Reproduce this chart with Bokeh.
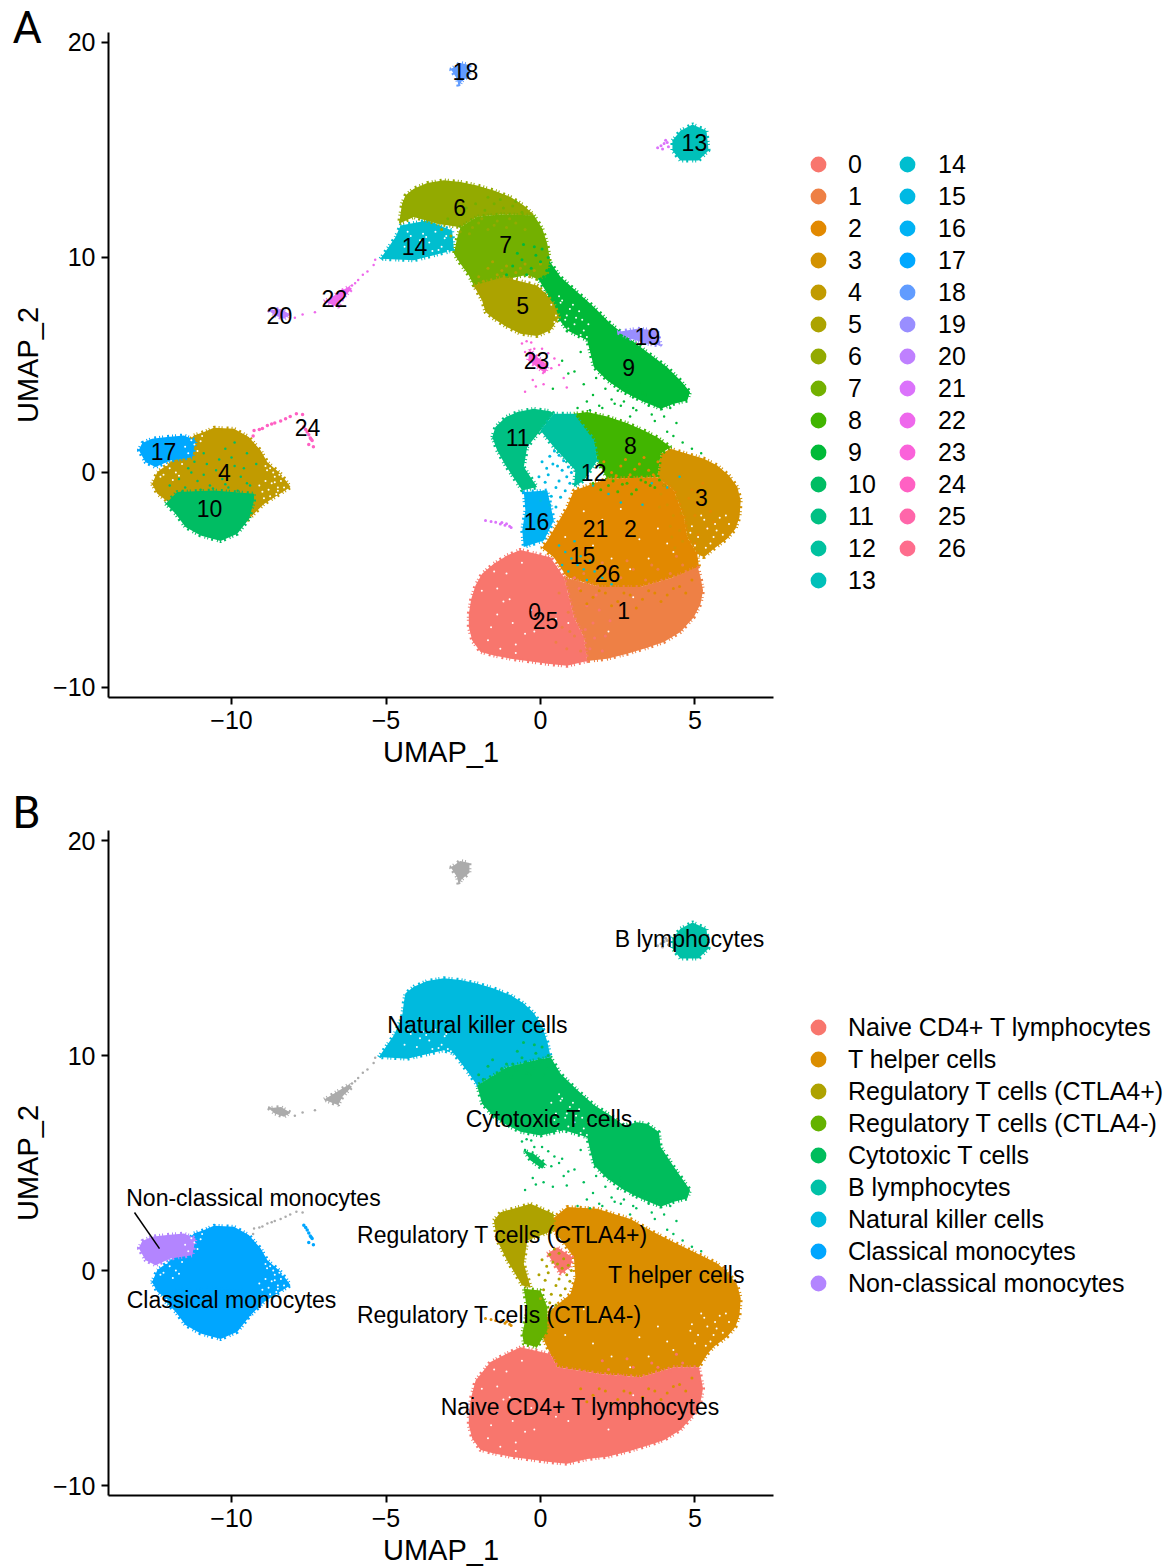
import math
from bokeh.embed import file_html
from bokeh.resources import INLINE
from bokeh.plotting import figure
from bokeh.layouts import column
from bokeh.models import Legend, LegendItem, FixedTicker, ColumnDataSource
from bokeh.core.properties import value

FONT = "Liberation Sans"
XTICKS = [-10, -5, 0, 5]
YTICKS = [-10, 0, 10, 20]
XTICK_LABELS = {-10: "\u221210", -5: "\u22125", 0: "0", 5: "5"}
YTICK_LABELS = {-10: "\u221210", 0: "0", 10: "10", 20: "20"}

# ---------- cluster outlines ----------
C0_X = [-0.65,-1.08,-1.51,-1.89,-2.10,-2.24,-2.32,-2.32,-2.21,-1.94,-1.51,-0.97,-0.43,0.22,0.86,1.51,1.40,1.08,0.92,0.76,0.32]
C0_Y = [-3.60,-3.86,-4.25,-4.71,-5.25,-5.87,-6.57,-7.19,-7.81,-8.35,-8.51,-8.66,-8.77,-8.90,-8.99,-8.77,-7.66,-6.73,-5.80,-4.87,-3.94]
C1_X = [0.76,1.94,3.24,4.32,5.09,5.18,5.26,5.18,4.96,4.53,3.99,3.45,2.81,2.16,1.51,1.40,1.08,0.92]
C1_Y = [-4.87,-5.33,-5.33,-4.87,-4.40,-4.87,-5.49,-6.11,-6.73,-7.42,-7.89,-8.15,-8.43,-8.66,-8.77,-7.66,-6.73,-5.80]
C2_X = [1.08,0.86,0.54,0.22,0.05,0.43,0.86,1.94,3.24,4.32,5.13,5.07,4.75,4.64,4.32,3.78,2.16]
C2_Y = [-0.84,-1.61,-2.39,-3.16,-3.5,-3.94,-4.87,-5.33,-5.33,-4.87,-4.40,-3.78,-3.01,-2.08,-0.84,-0.22,-0.29]
C3_X = [4.21,4.75,5.29,5.72,6.10,6.37,6.48,6.44,6.31,6.04,5.61,5.29,5.07,4.75,4.64,4.32,3.78,3.89]
C3_Y = [1.10,0.87,0.64,0.33,-0.14,-0.68,-1.30,-2.08,-2.62,-3.08,-3.55,-3.94,-3.78,-3.01,-2.08,-0.84,-0.22,0.87]
C4_X = [-12.57,-12.40,-11.97,-11.54,-11.22,-10.89,-10.57,-9.92,-9.44,-9.06,-8.84,-8.41,-8.09,-8.52,-8.95,-9.49,-9.71,-10.9,-11.97,-12.40]
C4_Y = [-0.53,0.02,0.48,1.18,1.72,1.88,2.08,2.03,1.65,1.03,0.48,-0.06,-0.68,-1.07,-1.46,-2.23,-1.14,-0.91,-1.45,-0.99]
C5_X = [-2.16,-1.89,-1.78,-1.51,-1.08,-0.65,-0.11,0.33,0.60,0.43,0.16,-0.11,-1.19]
C5_Y = [8.70,8.0,7.46,7.15,6.76,6.45,6.35,6.61,7.23,7.85,8.32,8.70,9.09]
C6_X = [-4.48,-4.37,-4.10,-3.67,-3.13,-2.59,-2.05,-1.51,-0.97,-0.54,-0.21,-1.30,-2.05,-2.59,-3.34,-4.10,-4.58]
C6_Y = [12.5,12.89,13.20,13.46,13.59,13.51,13.35,13.12,12.81,12.42,11.96,12.0,11.9,11.41,11.57,11.88,11.57]
C7_X = [-0.21,0.06,0.22,0.30,0.2,-0.11,-0.43,-1.29,-2.16,-2.32,-2.59,-2.80,-2.70,-2.59,-2.05,-1.29]
C7_Y = [11.96,11.34,10.64,9.94,9.2,9.0,9.2,8.93,8.70,9.17,9.71,10.17,10.9,11.41,11.9,12.0]
C8_X = [1.08,1.51,2.16,2.81,3.35,3.78,4.21,3.89,3.78,2.16,1.84,1.73,1.08]
C8_Y = [2.73,2.81,2.60,2.29,1.95,1.64,1.18,0.87,-0.22,-0.29,0.56,1.33,2.11]
C9_X = [0.27,0.65,1.19,1.73,2.27,2.81,3.45,4.10,4.53,4.84,4.75,4.32,3.89,3.24,2.70,2.16,1.73,1.62,1.51,0.87,0.54,0.22,-0.11]
C9_Y = [9.87,9.09,8.39,7.70,6.92,6.30,5.60,4.90,4.28,3.74,3.35,3.2,2.97,3.35,3.74,4.28,4.90,5.53,6.15,6.6,7.23,8.32,9.09]
C10_X = [-12.13,-11.76,-10.57,-9.27,-9.27,-9.43,-9.81,-10.35,-11.0,-11.49,-11.81]
C10_Y = [-1.45,-0.91,-0.84,-0.99,-1.30,-2.15,-2.85,-3.19,-2.93,-2.54,-1.92]
C11_X = [-1.56,-1.46,-1.13,-0.75,-0.22,0.32,0.43,0.0,-0.43,-0.54,-0.11,-0.59,-0.81,-1.13,-1.40]
C11_Y = [1.64,2.11,2.57,2.81,2.96,2.85,2.73,1.95,1.18,0.25,-0.68,-0.84,-0.37,0.33,1.02]
C12_X = [0.43,1.08,1.73,1.84,1.40,1.08,1.13,0.43,0.0]
C12_Y = [2.73,2.73,1.49,0.56,-0.37,-0.68,0.09,1.18,1.95]
C13_X = [4.27,4.53,4.92,5.37,5.44,5.11,4.53,4.27]
C13_Y = [15.44,15.9,16.19,15.9,14.98,14.51,14.51,14.98]
C14_X = [-5.18,-4.69,-4.53,-3.67,-2.86,-2.80,-3.24,-4.10]
C14_Y = [9.94,10.95,11.49,11.72,11.26,10.33,10.18,9.87]
C16_X = [-0.54,0.22,0.43,0.11,-0.54,-0.59,-0.49]
C16_Y = [-0.91,-0.84,-2.23,-3.16,-3.47,-2.70,-1.77]
C17_X = [-13.0,-12.89,-12.57,-12.08,-11.54,-11.16,-11.27,-11.97,-12.46,-12.78]
C17_Y = [1.03,1.37,1.57,1.65,1.72,1.49,0.71,0.56,0.25,0.48]
C18_X = [-2.9,-2.6,-2.3,-2.3,-2.55,-2.65,-2.7]
C18_Y = [18.75,19.05,18.95,18.5,18.2,17.95,18.3]
C19_X = [2.48,3.13,3.78,3.89,3.45,2.92]
C19_Y = [6.53,6.69,6.61,5.91,5.99,6.22]
C20_X = [-8.8,-8.4,-8.1,-8.3,-8.6]
C20_Y = [7.55,7.6,7.35,7.15,7.3]
C22_X = [-7.0,-6.6,-6.2,-6.1,-6.4,-6.55,-6.75]
C22_Y = [7.95,8.3,8.65,8.55,8.1,7.7,7.8]
C23_X = [-0.35,-0.05,0.25,0.15,-0.1,-0.4]
C23_Y = [5.7,5.3,5.0,4.6,4.9,5.2]

# ---------- small separate groups of points ----------
TAIL_X = [-9.3,-9.27,-9.1,-9.0,-8.84,-8.7,-8.6,-8.41,-8.25,-8.1,-7.9,-7.7,-7.66,-7.6,-7.55,-7.5,-7.45,-7.39,-7.5,-7.35,-7.42]
TAIL_Y = [1.7,1.95,2.0,2.05,2.19,2.25,2.3,2.4,2.5,2.6,2.73,2.7,2.11,2.0,1.88,1.75,1.6,1.49,1.3,1.2,1.55]
BRIDGE_X = [-5.4,-5.6,-5.35,-5.75,-5.9,-6.0,-6.1,-6.85,-7.3,-7.7,-7.95]
BRIDGE_Y = [9.65,9.35,9.9,9.2,8.95,8.8,8.7,7.95,7.45,7.35,7.2]
NEAR16_X = [-1.78,-1.6,-1.45,-1.3,-1.15,-1.0,-0.95,-1.1,-1.25]
NEAR16_Y = [-2.23,-2.28,-2.32,-2.4,-2.45,-2.5,-2.56,-2.38,-2.33]
NEAR13_X = [3.79,3.9,4.0,4.1,4.14,3.95,4.05]
NEAR13_Y = [15.1,15.2,15.3,15.35,15.15,15.05,15.45]
NEAR23_X = [-0.6,-0.5,-0.45,-0.3,-0.2,0.05,0.25,0.35,0.45,0.6,0.75,-0.25,-0.15,0.1,-0.5,0.85]
NEAR23_Y = [6.0,5.6,6.1,6.05,5.75,5.75,5.55,4.85,5.3,5.0,4.4,4.3,4.0,4.1,3.75,3.95]
GREEN_X = [1.2,1.5,1.7,1.9,2.1,2.3,2.5,2.6,2.8,3.0,3.1,3.3,3.5,3.6,3.8,4.0,4.2,4.4,1.4,1.8,2.2,2.4,2.7,2.9,3.2,3.4,3.7,3.9,4.1,1.1,1.6,2.0,4.3,4.6,4.9,5.2,3.0,2.6,0.7,0.9,1.3,0.4]
GREEN_Y = [3.0,3.3,3.6,3.1,3.9,3.4,3.8,3.1,4.0,3.5,2.9,3.7,3.1,2.7,3.3,2.6,3.0,2.3,4.1,4.4,4.6,3.2,3.3,2.6,4.2,3.6,2.4,3.0,1.9,4.7,2.9,3.0,1.7,1.4,1.1,0.9,3.0,4.3,5.2,4.6,5.6,3.9]
INNER_X = [0.45,0.6,0.75,0.9,1.0,0.55,0.7,0.85,0.3,0.4,0.6,0.95,0.2,0.05,0.25,0.5,0.8,-0.05,0.15,0.35,0.1,0.3,0.0,0.5,0.65]
INNER_Y = [1.0,0.8,0.55,0.25,0.0,0.3,0.1,-0.2,0.75,0.4,-0.4,-0.5,0.2,0.5,-0.1,-0.7,-0.85,-0.2,-0.45,-1.1,-0.9,-1.5,-1.3,-1.6,-1.15]
MIX15_X = [0.6,0.8,1.0,1.2,1.4,1.6,0.9,1.1,1.3,1.5,1.75,2.0,2.3,0.7,2.6,3.1,3.6,4.1,2.2,1.7,3.3,4.5]
MIX15_Y = [-3.4,-3.7,-4.0,-4.3,-4.5,-4.1,-4.6,-3.2,-3.9,-5.0,-4.6,-4.9,-5.2,-4.3,-1.4,-0.8,-0.5,-0.7,-1.0,-0.6,-1.5,-0.2]
MIX4_X = [-12.0,-11.7,-11.5,-11.3,-11.1,-10.9,-10.7,-10.5,-10.3,-10.1,-9.9,-9.7,-9.5,-11.6,-11.2,-10.8,-10.4,-10.0,-9.6,-11.0,-10.6,-10.2,-9.8,-9.4,-9.9,-10.2,-9.5,-9.2,-11.4,-10.9]
MIX4_Y = [-0.6,-0.3,-0.7,0.0,-0.4,-0.1,-0.6,0.1,-0.3,-0.7,0.3,-0.2,-0.5,-0.9,0.5,0.4,0.6,0.7,0.2,-0.8,-0.75,-0.55,-0.85,-0.6,1.4,1.1,0.9,0.4,0.2,0.9]
MIX6_X = [-3.2,-2.9,-2.6,-2.3,-2.0,-1.7,-1.4,-1.1,-0.8,-0.5,-2.2,-1.9,-1.5,-1.0]
MIX6_Y = [11.3,11.0,11.2,11.1,11.6,11.3,11.7,11.4,11.6,11.3,11.4,11.8,11.5,11.8]
MIX7_X = [-2.4,-2.1,-1.8,-1.5,-1.2,-0.9,-0.6,-3.0,-2.7,-1.7,-1.3,-0.8]
MIX7_Y = [12.3,12.5,12.2,12.5,12.3,12.4,12.1,11.8,12.0,12.8,12.7,12.6]
MIX5_X = [-2.0,-1.7,-1.4,-1.1,-0.8,-0.5,-0.2,-1.85,-1.55,-1.25,-0.95,-0.65,-0.35,0.0]
MIX5_Y = [9.1,9.5,9.2,9.6,9.3,9.7,9.4,8.9,9.8,9.4,9.0,9.5,9.1,9.7]
MIX9_X = [-0.9,-0.6,-0.3,0.0,0.2,-0.75,-0.45,-0.15,0.1,-1.1,-0.2,0.05,-0.55,0.25]
MIX9_Y = [9.6,9.9,9.5,9.8,9.4,10.2,9.2,10.1,9.1,9.2,10.5,10.4,10.6,10.0]
MIX8_X = [2.2,2.5,2.8,3.1,3.4,3.7,2.35,2.65,2.95,3.25,3.55,3.85,4.0,1.7,1.95]
MIX8_Y = [-0.6,-0.9,-0.5,-0.8,-0.45,-0.7,-0.4,-0.55,-1.0,-0.35,-0.6,-0.35,-0.6,-0.5,-0.8]
MIX2_X = [2.3,2.6,2.9,3.2,3.5,3.8,2.05,2.45,2.75,3.05,3.35,3.65]
MIX2_Y = [0.0,0.3,-0.1,0.4,0.1,0.5,0.5,-0.15,0.6,0.15,0.7,-0.1]
MIX3_X = [3.9,4.1,4.3,4.5,4.0,4.2,4.4,4.6,3.85,4.25,4.55,4.35]
MIX3_Y = [-1.0,-1.5,-2.0,-2.7,-0.6,-2.5,-1.2,-3.2,-1.6,-3.0,-1.9,-3.5]
MIX2B_X = [4.8,5.0,5.2,5.4,4.9,5.1,5.3,5.5,5.0,5.25,4.7,5.6]
MIX2B_Y = [-1.2,-2.0,-1.5,-2.6,-0.8,-2.9,-1.0,-1.8,-3.3,-0.5,-2.5,-2.3]
MIX1_X = [0.5,0.7,0.9,1.1,1.25,0.6,0.85,1.05,1.3,0.4,0.95,1.2]
MIX1_Y = [-7.9,-7.2,-6.5,-7.6,-6.1,-5.6,-8.2,-5.3,-8.3,-6.8,-7.4,-5.0]
MIX0_X = [1.5,1.7,1.9,2.1,1.6,1.8,2.0,2.25,1.45,1.75,1.25,1.1]
MIX0_Y = [-6.2,-7.0,-6.4,-7.6,-8.2,-5.7,-8.3,-6.9,-7.3,-7.7,-5.4,-4.9]
MIX2C_X = [1.3,1.7,2.1,2.5,2.9,3.3,3.7,4.1,4.5,4.9,1.5,1.9,2.3,2.7,3.1,3.5,3.9,4.3,4.7]
MIX2C_Y = [-5.5,-5.8,-5.6,-6.0,-5.7,-5.9,-5.6,-5.7,-5.3,-5.0,-6.1,-5.5,-6.2,-5.6,-6.3,-5.5,-6.0,-5.4,-5.6]
MIX1B_X = [1.4,1.8,2.2,2.6,3.0,3.4,3.8,4.2,4.6,2.0,2.8,3.6,4.4]
MIX1B_Y = [-4.7,-5.0,-4.6,-4.9,-4.5,-5.0,-4.5,-4.7,-4.3,-4.2,-4.1,-4.3,-3.9]
SPECK_X = [-9.0,-8.9,-8.75,-8.6,-8.5,-8.4,-8.3,-8.85,-8.7,-8.55,-8.45,-8.65,-8.8,-8.95,-8.35,-9.1,-8.6,-8.75,-8.5,-8.9,
           0.35,0.5,0.65,0.8,0.95,1.1,1.25,1.4,1.55,0.45,0.7,0.9,1.15,1.35,0.55,0.85,1.05,1.3,1.5,0.6,
           -4.4,-4.2,-4.0,-3.8,-3.6,-3.4,-3.2,-3.0,-4.3,-3.9,-3.5,-3.1,-3.7,-3.3,-2.9,-3.05,
           4.9,5.1,5.3,5.5,5.7,5.9,6.1,5.0,5.2,5.4,5.6,5.8,6.0,5.35,5.65,4.85,
           -11.5,-11.3,-11.1,-10.95,-11.4,-11.2,-11.0,-12.4,-12.2,-12.0,-11.8,-11.6,-12.3,-12.1,-11.9,-11.7,
           -1.9,-1.6,-1.3,-1.0,-1.7,-1.4,-1.1,-0.8,-0.5,-1.5,-1.2,-0.9,-0.6,-0.3,
           1.4,2.0,2.6,3.2,3.8,4.3,0.8,1.7,2.3,2.9,3.5,4.1,3.0,2.2,0.9,-0.8,-1.4,-0.2,0.5]
SPECK_Y = [-0.9,-0.4,-1.1,-0.2,-0.7,-0.4,-0.7,0.1,-0.5,-1.0,-0.1,0.0,-0.8,-1.2,-0.2,-0.6,-0.45,0.2,-0.85,0.3,
           7.8,7.3,7.9,7.1,7.6,6.9,7.5,6.6,6.9,7.0,8.0,6.7,7.2,7.1,6.5,7.3,7.8,6.4,6.3,8.2,
           10.5,11.0,10.4,11.1,10.7,11.2,10.5,10.3,11.2,10.8,10.3,10.9,10.95,10.35,10.2,11.0,
           -2.5,-3.0,-2.2,-3.3,-2.7,-2.9,-2.4,-3.4,-2.0,-2.6,-3.0,-2.1,-2.0,-3.5,-2.4,-2.8,
           1.2,1.5,1.0,1.7,0.9,1.3,1.45,0.1,-0.1,0.2,0.0,0.4,-0.2,0.35,-0.35,-0.15,
           -5.5,-7.2,-8.2,-5.9,-7.8,-6.6,-4.7,-8.4,-7.5,-4.6,-6.0,-7.0,-4.2,-6.4,
           -1.8,-2.2,-1.7,-3.1,-2.6,-3.7,-3.0,-3.4,-4.0,-4.5,-4.0,-3.3,-5.8,-7.4,-7.0,-8.0,-5.4,-7.4,-6.8]

# ---------- outlines ----------
NAIVE_X = [-0.65,-1.08,-1.62,-2.10,-2.24,-2.32,-2.32,-2.21,-1.94,-1.51,-0.97,-0.43,0.22,0.86,1.51,2.16,2.81,3.45,3.99,4.53,4.96,5.18,5.26,5.13,4.32,3.24,1.94,0.54,0.32]
NAIVE_Y = [-3.57,-3.86,-4.26,-5.12,-5.87,-6.57,-7.19,-7.81,-8.35,-8.51,-8.66,-8.77,-8.90,-8.99,-8.77,-8.66,-8.43,-8.15,-7.89,-7.42,-6.73,-6.11,-5.49,-4.50,-4.5,-4.96,-4.81,-4.5,-3.88]
NAIVE2_X = [0.22,0.54,1.03,0.97,0.65,0.43]
NAIVE2_Y = [0.78,1.08,0.62,0.15,-0.16,0.31]
HELPER_X = [0.32,0.86,1.84,2.91,3.67,4.53,5.29,5.72,6.10,6.37,6.48,6.44,6.31,6.04,5.61,5.40,5.13,4.32,3.24,1.94,0.54,0.32,0.0,0.32,0.97,1.13,1.08,0.76,0.43]
HELPER_Y = [2.33,2.95,2.87,2.40,1.78,1.16,0.64,0.33,-0.14,-0.68,-1.30,-2.08,-2.62,-3.08,-3.55,-3.88,-4.50,-4.5,-4.96,-4.81,-4.5,-3.88,-2.9,-1.86,-1.09,-0.31,0.62,1.24,1.86]
REGP_X = [-1.51,-1.29,-0.32,0.43,0.43,-0.43,-0.54,-0.32,-0.59,-1.08,-1.40]
REGP_Y = [2.33,2.71,3.1,2.63,1.86,1.4,0.31,-0.78,-0.70,0.47,1.4]
REGM_X = [-0.54,0.0,0.22,0.22,-0.11,-0.54,-0.59,-0.43]
REGM_Y = [-0.85,-0.93,-1.7,-2.79,-3.57,-3.41,-2.95,-1.86]
NK_X = [-5.23,-4.75,-4.48,-4.42,-4.37,-4.10,-3.67,-3.13,-2.59,-2.05,-1.51,-0.97,-0.54,-0.21,0.06,0.22,0.33,-0.22,-1.08,-1.62,-2.05,-2.32,-2.8,-3.13,-4.31]
NK_Y = [9.93,10.93,11.78,12.5,12.89,13.20,13.46,13.59,13.51,13.35,13.12,12.81,12.42,11.96,11.34,10.64,9.92,9.77,9.46,8.99,8.61,9.17,10.08,10.24,9.85]
CYTO_X = [0.33,0.65,1.19,1.73,2.27,2.7,3.13,3.45,3.83,3.89,4.32,4.84,4.75,4.32,3.89,3.24,2.70,2.16,1.73,1.62,1.51,0.76,0.0,-0.65,-1.08,-1.51,-1.89,-2.05,-1.62,-1.08,-0.22]
CYTO_Y = [9.92,9.15,8.39,7.70,7.21,6.75,6.9,6.83,6.44,5.74,4.81,3.74,3.35,3.2,2.97,3.35,3.74,4.28,4.90,5.53,6.2,6.52,6.28,6.45,6.76,7.15,7.76,8.61,8.99,9.46,9.77]
CYTO2_X = [-0.54,-0.22,0.16,0.06,-0.32]
CYTO2_Y = [5.58,5.43,4.97,4.73,5.12]
POINTER_X = [-13.14,-12.33]
POINTER_Y = [2.70,1.02]

# ---------- labels ----------
CLUSTER_NAMES = [str(i) for i in range(27)]
CLUSTER_X = [-0.19,2.69,2.91,5.21,-10.23,-0.58,-2.62,-1.13,2.91,2.85,-10.71,-0.74,1.72,4.98,-4.08,1.36,-0.13,-12.2,-2.43,3.46,-8.45,1.78,-6.67,-0.13,-7.54,0.16,2.17]
CLUSTER_Y = [-6.47,-6.42,-2.60,-1.16,0.0,7.77,12.33,10.6,1.26,4.88,-1.67,1.63,0.0,15.35,10.51,-3.86,-2.28,0.98,18.65,6.33,7.3,-2.6,8.09,5.21,2.09,-6.88,-4.7]
CELL_NAMES = ["Naive CD4+ T lymphocytes","T helper cells","Regulatory T cells (CTLA4+)","Regulatory T cells (CTLA4-)","Cytotoxic T cells","B lymphocytes","Natural killer cells","Classical monocytes","Non-classical monocytes"]
CELL_X = [1.29,4.4,-1.23,-1.33,0.29,4.82,-2.04,-10.0,-9.29]
CELL_Y = [-6.37,-0.23,1.63,-2.05,7.07,15.4,11.4,-1.35,3.35]
CELL_COLORS = ["#F8766D","#DB8E00","#AEA200","#64B200","#00BD5C","#00C1A7","#00BADE","#00A6FF","#B385FF"]
GREY = "#ABABAB"
AXIS_X = -13.98
AXIS_Y = -10.47
AXIS_TOP = 20.47
AXIS_RIGHT = 7.54


def hue(i, n=27):
    h = math.radians(15 + 360 * i / n)
    L, C = 65.0, 100.0
    u, v = C * math.cos(h), C * math.sin(h)
    Y = ((L + 16) / 116) ** 3
    up, vp = u / (13 * L) + 0.1978398, v / (13 * L) + 0.4683363
    X = 9 * Y * up / (4 * vp)
    Z = -X / 3 - 5 * Y + 3 * Y / vp
    lin = [3.2406 * X - 1.5372 * Y - 0.4986 * Z,
           -0.9689 * X + 1.8758 * Y + 0.0415 * Z,
           0.0557 * X - 0.2040 * Y + 1.0570 * Z]
    out = []
    for c in lin:
        c = max(0.0, min(1.0, c))
        c = 12.92 * c if c <= 0.0031308 else 1.055 * c ** (1 / 2.4) - 0.055
        out.append(round(c * 255))
    return "#%02X%02X%02X" % tuple(out)


COL = [hue(i) for i in range(27)]


def make_fig(height, ytop, ybottom):
    p = figure(width=1174, height=height, output_backend="svg", toolbar_location=None,
               x_range=(-17.476, 20.518), y_range=(ybottom, ytop),
               min_border=0, min_border_left=0, min_border_right=0, min_border_top=0, min_border_bottom=0,
               outline_line_color=None)
    p.grid.visible = False
    p.xaxis.fixed_location = AXIS_Y
    p.yaxis.fixed_location = AXIS_X
    p.xaxis.bounds = (AXIS_X, AXIS_RIGHT)
    p.yaxis.bounds = (AXIS_Y, AXIS_TOP)
    for ax, ticks, over, name in ((p.xaxis, XTICKS, XTICK_LABELS, "UMAP_1"), (p.yaxis, YTICKS, YTICK_LABELS, "UMAP_2")):
        ax.ticker = FixedTicker(ticks=ticks)
        ax.major_label_overrides = over
        ax.minor_tick_line_color = None
        ax.major_tick_in = 0
        ax.major_tick_out = 7
        ax.major_tick_line_width = 2
        ax.major_tick_line_color = "black"
        ax.axis_line_width = 2
        ax.axis_line_color = "black"
        ax.major_label_text_font = FONT
        ax.major_label_text_font_size = "25px"
        ax.major_label_text_color = "black"
        ax.axis_label = name
        ax.axis_label_text_font = FONT
        ax.axis_label_text_font_size = "29px"
        ax.axis_label_text_font_style = "normal"
        ax.axis_label_text_color = "black"
    p.xaxis.major_label_standoff = 6
    p.yaxis.major_label_standoff = 6
    p.xaxis.axis_label_standoff = 4
    p.yaxis.axis_label_standoff = 6
    return p


def blob(p, xs, ys, color):
    p.patch(xs, ys, fill_color=color, line_color=None)
    p.patch(xs, ys, fill_color=None, line_color=color, line_width=4, line_dash="1 2 1 4 2 3")


def dots(p, xs, ys, color, size=2.5):
    p.scatter(xs, ys, size=size, fill_color=color, line_color=None)


def add_legend(p, labels, colors, x, y, standoff):
    items = []
    for lab, col in zip(labels, colors):
        r = p.scatter([float("nan")], [float("nan")], size=14, fill_color=col, line_color=col, line_width=3)
        items.append(LegendItem(label=value(lab), renderers=[r]))
    lg = Legend(items=items, location=(x, y), glyph_width=32, glyph_height=32, spacing=0, padding=0, margin=0,
                label_standoff=standoff, label_height=32, label_text_font=FONT, label_text_font_size="25px",
                label_text_color="black", border_line_color=None, background_fill_alpha=0)
    p.add_layout(lg, "center")


def letter(p, txt, x, y):
    p.text(x=[x], y=[y], text=[txt], text_font=value("Roboto"), text_font_size=value("45px"), text_color="black",
           text_baseline="middle", text_align="left")


# ---------- panel A ----------
a = make_fig(776, 21.953, -14.14)
for xs, ys, i in ((C4_X, C4_Y, 4), (C10_X, C10_Y, 10), (C17_X, C17_Y, 17), (C14_X, C14_Y, 14), (C6_X, C6_Y, 6),
                  (C9_X, C9_Y, 9), (C7_X, C7_Y, 7), (C5_X, C5_Y, 5), (C19_X, C19_Y, 19), (C3_X, C3_Y, 3),
                  (C8_X, C8_Y, 8), (C11_X, C11_Y, 11), (C12_X, C12_Y, 12), (C16_X, C16_Y, 16), (C2_X, C2_Y, 2),
                  (C1_X, C1_Y, 1), (C0_X, C0_Y, 0), (C13_X, C13_Y, 13), (C18_X, C18_Y, 18), (C20_X, C20_Y, 20),
                  (C22_X, C22_Y, 22), (C23_X, C23_Y, 23)):
    blob(a, xs, ys, COL[i])
dots(a, TAIL_X, TAIL_Y, COL[24], 3.5)
dots(a, BRIDGE_X, BRIDGE_Y, COL[22])
dots(a, NEAR16_X, NEAR16_Y, COL[21], 3)
dots(a, NEAR13_X, NEAR13_Y, COL[21], 3)
dots(a, NEAR23_X, NEAR23_Y, COL[23])
dots(a, GREEN_X, GREEN_Y, COL[9])
dots(a, INNER_X, INNER_Y, COL[15], 3)
dots(a, MIX15_X, MIX15_Y, COL[14])
dots(a, MIX4_X, MIX4_Y, COL[10])
dots(a, MIX6_X, MIX6_Y, COL[6], 3)
dots(a, MIX7_X, MIX7_Y, COL[7], 3)
dots(a, MIX5_X, MIX5_Y, COL[5], 3)
dots(a, MIX9_X, MIX9_Y, COL[9], 3)
dots(a, MIX8_X, MIX8_Y, COL[8], 3)
dots(a, MIX2_X, MIX2_Y, COL[2], 3)
dots(a, MIX3_X, MIX3_Y, COL[3], 3)
dots(a, MIX2B_X, MIX2B_Y, COL[2], 3)
dots(a, MIX1_X, MIX1_Y, COL[1], 3)
dots(a, MIX0_X, MIX0_Y, COL[0], 3)
dots(a, MIX2C_X, MIX2C_Y, COL[2], 3)
dots(a, MIX1B_X, MIX1B_Y, COL[1], 3)
dots(a, SPECK_X, SPECK_Y, "white", 2)
a.text(x="x", y="y", text="t", source=ColumnDataSource(dict(x=CLUSTER_X, y=CLUSTER_Y, t=CLUSTER_NAMES)),
       text_font=value(FONT), text_font_size=value("23px"), text_color="black", text_align="center", text_baseline="middle")
add_legend(a, CLUSTER_NAMES[:14], COL[:14], 802, 180, 14)
add_legend(a, CLUSTER_NAMES[14:], COL[14:], 891, 212, 15)
letter(a, "A", -17.09, 20.70)

# ---------- panel B ----------
b = make_fig(790, 22.977, -13.767)
blob(b, C4_X, C4_Y, CELL_COLORS[7])
blob(b, C10_X, C10_Y, CELL_COLORS[7])
blob(b, C17_X, C17_Y, CELL_COLORS[8])
blob(b, NK_X, NK_Y, CELL_COLORS[6])
blob(b, CYTO_X, CYTO_Y, CELL_COLORS[4])
blob(b, CYTO2_X, CYTO2_Y, CELL_COLORS[4])
blob(b, HELPER_X, HELPER_Y, CELL_COLORS[1])
blob(b, REGP_X, REGP_Y, CELL_COLORS[2])
blob(b, REGM_X, REGM_Y, CELL_COLORS[3])
blob(b, NAIVE_X, NAIVE_Y, CELL_COLORS[0])
blob(b, NAIVE2_X, NAIVE2_Y, CELL_COLORS[0])
blob(b, C13_X, C13_Y, CELL_COLORS[5])
blob(b, C18_X, C18_Y, GREY)
blob(b, C20_X, C20_Y, GREY)
blob(b, C22_X, C22_Y, GREY)
dots(b, TAIL_X[:12], TAIL_Y[:12], GREY)
dots(b, TAIL_X[12:], TAIL_Y[12:], CELL_COLORS[7], 3.5)
dots(b, BRIDGE_X, BRIDGE_Y, GREY)
dots(b, NEAR16_X, NEAR16_Y, CELL_COLORS[1], 3)
dots(b, NEAR13_X, NEAR13_Y, GREY, 3)
dots(b, NEAR23_X, NEAR23_Y, CELL_COLORS[4])
dots(b, GREEN_X, GREEN_Y, CELL_COLORS[4])
dots(b, INNER_X, INNER_Y, CELL_COLORS[2], 3)
dots(b, MIX5_X, MIX5_Y, CELL_COLORS[4], 3)
dots(b, MIX9_X, MIX9_Y, CELL_COLORS[4], 3)
dots(b, MIX2C_X, MIX2C_Y, CELL_COLORS[1], 3)
dots(b, MIX1B_X, MIX1B_Y, CELL_COLORS[0], 3)
dots(b, SPECK_X, SPECK_Y, "white", 2)
b.line(POINTER_X, POINTER_Y, line_color="black", line_width=1.5)
b.text(x="x", y="y", text="t", source=ColumnDataSource(dict(x=CELL_X, y=CELL_Y, t=CELL_NAMES)),
       text_font=value(FONT), text_font_size=value("23px"), text_color="black", text_align="center", text_baseline="middle")
add_legend(b, CELL_NAMES, CELL_COLORS, 802, 267, 14)
letter(b, "B", -17.09, 21.30)

open("out.html", "w").write(file_html(column(a, b, spacing=0), INLINE))
